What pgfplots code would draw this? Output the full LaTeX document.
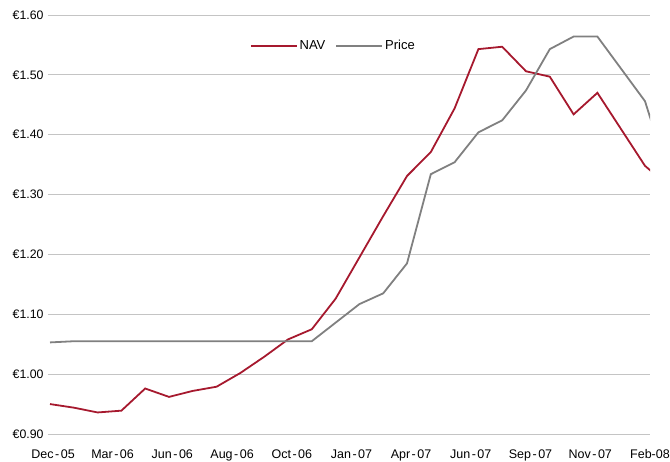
\documentclass[border=0pt]{standalone}
\usepackage{fontspec}
\setmainfont{Liberation Sans}
\usepackage{pgfplots}
\pgfplotsset{compat=1.18}
\definecolor{navred}{HTML}{A6192E}
\definecolor{pricegray}{HTML}{808080}
\definecolor{gridgray}{HTML}{C4C4C4}
\newcommand{\hy}{\hspace{1.5pt}-\hspace{1.5pt}}
\begin{document}
\begin{tikzpicture}
\path[use as bounding box] (-48pt,-27pt) rectangle (622pt,434pt);
\begin{axis}[
  scale only axis,
  width=602pt, height=419pt,
  xmin=-0.084, xmax=25.21,
  ymin=0.9, ymax=1.6,
  ytick={0.9,1.0,1.1,1.2,1.3,1.4,1.5,1.6},
  yticklabels={€0.90,€1.00,€1.10,€1.20,€1.30,€1.40,€1.50,€1.60},
  xtick={0.13,2.63,5.14,7.65,10.16,12.67,15.17,17.68,20.19,22.70,25.21},
  xticklabels={Dec\hy05,Mar\hy06,Jun\hy06,Aug\hy06,Oct\hy06,Jan\hy07,Apr\hy07,Jun\hy07,Sep\hy07,Nov\hy07,Feb-08},
  ymajorgrids,
  major grid style={gridgray, line width=1pt},
  axis line style={draw=none},
  tick style={draw=none},
  major tick length=0pt,
  yticklabel style={font=\fontsize{12.3}{14}\selectfont, xshift=-1pt},
  xticklabel style={font=\fontsize{12.5}{14}\selectfont, yshift=-12pt},
  legend style={at={(0.474,0.926)}, anchor=center, draw=none, fill=none,
    font=\fontsize{13}{15}\selectfont, legend columns=2,
    /tikz/every even column/.append style={column sep=8pt}},
  legend image code/.code={\draw[#1] (0pt,0pt) -- (46pt,0pt);},
]
\addplot[navred, line width=1.8pt] coordinates {
(0,0.950) (1,0.944) (2,0.936) (3,0.939) (4,0.976) (5,0.962) (6,0.972) (7,0.979)
(8,1.002) (9,1.029) (10,1.058) (11,1.075) (12,1.126) (13,1.195) (14,1.264)
(15,1.331) (16,1.371) (17,1.444) (18,1.543) (19,1.547) (20,1.506) (21,1.497)
(22,1.434) (23,1.470) (24,1.409) (25,1.348) (26,1.314)};
\addlegendentry{NAV}
\addplot[pricegray, line width=1.8pt] coordinates {
(0,1.053) (1,1.055) (2,1.055) (3,1.055) (4,1.055) (5,1.055) (6,1.055) (7,1.055)
(8,1.055) (9,1.055) (10,1.055) (11,1.055) (12,1.086) (13,1.117) (14,1.135)
(15,1.185) (16,1.334) (17,1.354) (18,1.404) (19,1.424) (20,1.474) (21,1.543)
(22,1.564) (23,1.564) (24,1.510) (25,1.456) (26,1.330)};
\addlegendentry{Price}
\end{axis}
\end{tikzpicture}
\end{document}
